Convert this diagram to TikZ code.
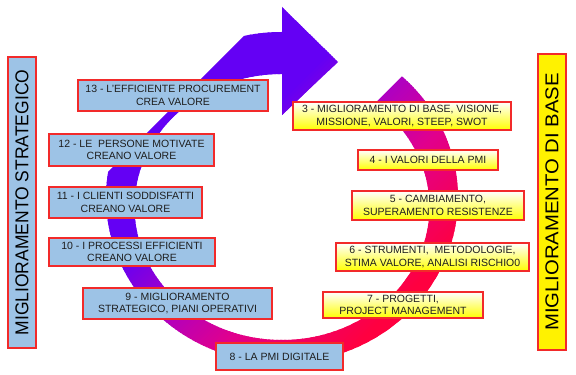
\documentclass[tikz,border=0pt]{standalone}
\usepackage{fontspec}
\setmainfont{Liberation Sans}
\definecolor{lblue}{HTML}{9DC3E6}
\definecolor{boxred}{HTML}{F22A2A}
\definecolor{cA}{HTML}{6400F4}
\definecolor{cB}{HTML}{B000C0}
\definecolor{cM}{HTML}{E0008E}
\definecolor{cC}{HTML}{FF0040}
\definecolor{txt}{HTML}{1E1E1E}
\begin{document}
\begin{tikzpicture}[x=1pt,y=1pt,
  boxbase/.style={draw=boxred, line width=1.2pt, align=center, inner sep=0pt,
    text=txt, font=\fontsize{10.5}{12.5}\selectfont},
  lbox/.style={boxbase, fill=lblue},
  rbox/.style={boxbase, top color=white, middle color=yellow!50, bottom color=yellow},
  barbase/.style={draw=boxred, line width=1.2pt, inner sep=0pt, rotate=90,
    text=black, font=\fontsize{18.6}{20}\selectfont}
]
\useasboundingbox (0,0) rectangle (576,375);
\fill[white] (0,0) rectangle (576,375);

% circular arrow, filled with a diagonal gradient (blue-violet -> red)
\begin{scope}
\clip (282,177.5) ++(47:176 and 165.5)
  arc[start angle=47, end angle=-270, x radius=176, y radius=165.5]
  -- (282,368) -- (338,313) -- (282,260)
  -- (282,301)
  arc[start angle=-270, end angle=51, x radius=147.5, y radius=133]
  -- cycle;
\foreach \s in {280,284,...,748}{
  \pgfmathtruncatemacro\c{\s-375}
  \ifnum\s<380 \def\col{cA}\else
   \ifnum\s<480 \pgfmathtruncatemacro\p{\s-380}\edef\col{cB!\p!cA}\else
    \ifnum\s<565 \pgfmathtruncatemacro\p{(\s-480)/0.85}\edef\col{cM!\p!cB}\else
     \ifnum\s<700 \pgfmathtruncatemacro\p{(\s-565)/1.35}\edef\col{cC!\p!cM}\else
      \def\col{cC}\fi\fi\fi\fi
  \fill[color=\col] (\c-12,-12) -- (\c+388,388) -- (\c+394,388) -- (\c-6,-12) -- cycle;
}
\end{scope}

% left column (strategic)
\node[lbox, minimum width=190, minimum height=31] (b13) at (173,279.5)
  {13 - L'EFFICIENTE PROCUREMENT\\CREA VALORE};
\node[lbox, minimum width=165, minimum height=32] (b12) at (131.5,225)
  {12 - LE\ \ PERSONE MOTIVATE\\CREANO VALORE};
\node[lbox, minimum width=153, minimum height=31] (b11) at (125.5,172.5)
  {11 - I CLIENTI SODDISFATTI\\CREANO VALORE};
\node[lbox, minimum width=166, minimum height=28] (b10) at (132,123)
  {10 - I PROCESSI EFFICIENTI\\CREANO VALORE};
\node[lbox, minimum width=189, minimum height=31] (b9) at (177.5,71.5)
  {9 - MIGLIORAMENTO\\STRATEGICO, PIANI OPERATIVI};
\node[lbox, minimum width=127, minimum height=27] (b8) at (279.5,18.5)
  {8 - LA PMI DIGITALE};

% right column (base)
\node[rbox, minimum width=218, minimum height=28] (b3) at (402,259)
  {3 - MIGLIORAMENTO DI BASE, VISIONE,\\MISSIONE, VALORI, STEEP, SWOT};
\node[rbox, minimum width=140, minimum height=20] (b4) at (428,215)
  {4 - I VALORI DELLA PMI};
\node[rbox, minimum width=172, minimum height=29] (b5) at (438,169.5)
  {5 - CAMBIAMENTO,\\SUPERAMENTO RESISTENZE};
\node[rbox, minimum width=193, minimum height=28] (b6) at (432.5,118)
  {6 - STRUMENTI,\ \ METODOLOGIE,\\STIMA VALORE, ANALISI RISCHIO0};
\node[rbox, minimum width=160, minimum height=26] (b7) at (403,70)
  {7 - PROGETTI,\\PROJECT MANAGEMENT};

% side bars
\node[barbase, fill=lblue, minimum width=291, minimum height=28] (lbar) at (22,172.5)
  {\scalebox{0.94}[1]{MIGLIORAMENTO STRATEGICO}};
\node[barbase, fill=yellow, minimum width=296, minimum height=28] (rbar) at (552,173)
  {\scalebox{1.09}[1]{MIGLIORAMENTO DI BASE}};
\end{tikzpicture}
\end{document}
